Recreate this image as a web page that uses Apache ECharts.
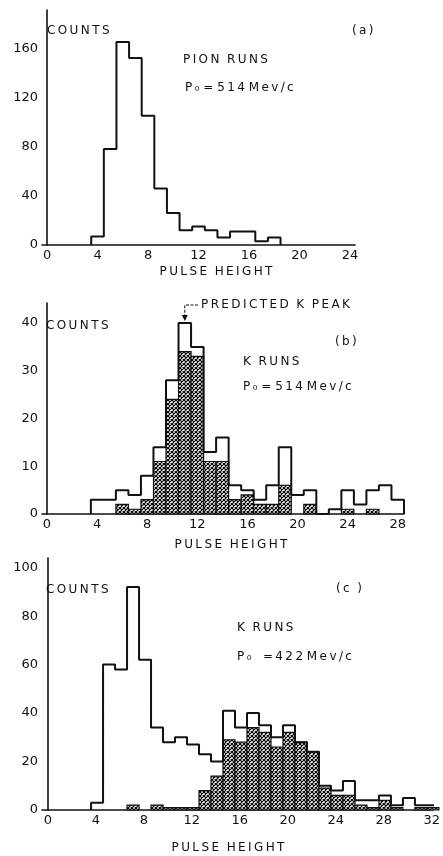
<!DOCTYPE html>
<html>
<head>
<meta charset="utf-8">
<script src="https://cdn.jsdelivr.net/npm/echarts@6/dist/echarts.min.js"></script>
<style>
  html, body { margin: 0; padding: 0; background: #fff; }
  #chart { width: 443px; height: 856px; }
</style>
</head>
<body>
<div id="chart"></div>
<script>
// (a) pion runs, Po = 514 Mev/c  -- one count per unit bin, first bin left edge
const pionEdge = 3.5
const pionCounts = [7, 78, 165, 152, 105, 46, 26, 12, 15, 12, 6, 11, 11, 3, 6]

// (b) K runs, Po = 514 Mev/c
const k514Edge = 3.5
const k514Total = [3, 3, 5, 4, 8, 14, 28, 40, 35, 13, 16, 6, 5, 3, 6, 14, 4, 5, 0, 1, 5, 2, 5, 6, 3]
const k514Hatched = [0, 0, 2, 1, 3, 11, 24, 34, 33, 11, 11, 3, 4, 2, 2, 6, 0, 2, 0, 0, 1, 0, 1, 0, 0]

// (c) K runs, Po = 422 Mev/c
const k422Edge = 3.6
const k422Total = [3, 60, 58, 92, 62, 34, 28, 30, 27, 23, 20, 41, 34, 40, 35, 30, 35, 28, 24, 10, 8, 12, 4, 4, 6, 2, 5, 2, 2]
const k422Hatched = [0, 0, 0, 2, 0, 2, 1, 1, 1, 8, 14, 29, 28, 34, 32, 26, 32, 28, 24, 9, 6, 6, 2, 1, 4, 1, 0, 1, 1]

const xTicksA = [0, 4, 8, 12, 16, 20, 24]
const xTicksB = [0, 4, 8, 12, 16, 20, 24, 28]
const xTicksC = [0, 4, 8, 12, 16, 20, 24, 28, 32]
const yTicksA = [0, 40, 80, 120, 160]
const yTicksB = [0, 10, 20, 30, 40]
const yTicksC = [0, 20, 40, 60, 80, 100]

const ink = '#111'
const fontFamily = '"DejaVu Sans", sans-serif'

// cross hatch fill
function makeHatch() {
  const c = document.createElement('canvas')
  c.width = 4
  c.height = 4
  const g = c.getContext('2d')
  g.fillStyle = '#fff'
  g.fillRect(0, 0, 4, 4)
  g.strokeStyle = '#000'
  g.lineWidth = 1.2
  g.beginPath()
  g.moveTo(0, 0); g.lineTo(4, 4)
  g.moveTo(4, 0); g.lineTo(0, 4)
  g.stroke()
  return c
}
const hatch = { image: makeHatch(), repeat: 'repeat' }

// step outline points from bin counts
function stairs(edge, counts) {
  const pts = [[edge, 0]]
  counts.forEach((v, i) => {
    pts.push([edge + i, v])
    pts.push([edge + i + 1, v])
  })
  pts.push([edge + counts.length, 0])
  return pts
}

function bins(edge, counts) {
  return counts.map((v, i) => [edge + i, edge + i + 1, v])
}

function hatchItem(params, api) {
  const v = api.value(2)
  if (!v) return
  const p0 = api.coord([api.value(0), v])
  const p1 = api.coord([api.value(1), 0])
  return {
    type: 'rect',
    shape: { x: p0[0], y: p0[1], width: p1[0] - p0[0], height: p1[1] - p0[1] },
    style: { fill: hatch, stroke: ink, lineWidth: 1.2 },
  }
}

function xAxis(idx, min, max, ticks) {
  return {
    type: 'value', gridIndex: idx, min: min, max: max,
    axisLine: { lineStyle: { color: ink, width: 1.6 } },
    axisTick: { show: false },
    splitLine: { show: false },
    axisLabel: { customValues: ticks, color: ink, fontFamily: fontFamily, fontSize: 13, margin: 4 },
  }
}

function yAxis(idx, max, ticks) {
  return {
    type: 'value', gridIndex: idx, min: 0, max: max,
    axisLine: { show: true, lineStyle: { color: ink, width: 1.6 } },
    axisTick: { show: false },
    splitLine: { show: false },
    axisLabel: { customValues: ticks, color: ink, fontFamily: fontFamily, fontSize: 13, margin: 4 },
  }
}

function outline(idx, edge, counts) {
  return {
    type: 'line', xAxisIndex: idx, yAxisIndex: idx,
    data: stairs(edge, counts), symbol: 'none', z: 5,
    lineStyle: { color: ink, width: 2 }, animation: false,
  }
}

function hatched(idx, edge, counts) {
  return {
    type: 'custom', xAxisIndex: idx, yAxisIndex: idx,
    data: bins(edge, counts), renderItem: hatchItem,
    encode: { x: [0, 1], y: 2 }, z: 3, animation: false,
  }
}

const chart = echarts.init(document.getElementById('chart'))
chart.setOption({
  backgroundColor: '#fff',
  animation: false,
  grid: [
    { left: 42, top: 10, width: 313, height: 235 },
    { left: 42, top: 303, width: 362, height: 211 },
    { left: 42, top: 558, width: 401, height: 252 },
  ],
  xAxis: [
    xAxis(0, -0.4, 24.4, xTicksA),
    xAxis(1, -0.4, 28.5, xTicksB),
    xAxis(2, -0.49, 32.1, xTicksC),
  ],
  yAxis: [
    yAxis(0, 191, yTicksA),
    yAxis(1, 44.2, yTicksB),
    yAxis(2, 104, yTicksC),
  ],
  series: [
    outline(0, pionEdge, pionCounts),
    hatched(1, k514Edge, k514Hatched),
    outline(1, k514Edge, k514Total),
    hatched(2, k422Edge, k422Hatched),
    outline(2, k422Edge, k422Total),
  ],
})

// widen the lettering a little, like the hand lettered original
function spaced(text, gap) {
  return text.split(' ').map(w => w.split('').join('\u2009')).join(gap)
}

function label(text, x, y, align, gap) {
  return {
    type: 'text', x: x, y: y, z: 10,
    style: {
      text: spaced(text, gap || '  '), fill: ink, fontFamily: fontFamily, fontSize: 12,
      align: align || 'left', verticalAlign: 'middle',
    },
  }
}

// arrow for the predicted K peak
const peakBin = k514Total.indexOf(Math.max(...k514Total))
const peak = chart.convertToPixel({ gridIndex: 1 }, [k514Edge + peakBin + 0.5, k514Total[peakBin]])
const arrowY = 305

chart.setOption({
  graphic: [
    label('COUNTS', 47, 31),
    label('(a)', 352, 31),
    label('PION RUNS', 183, 60),
    label('P\u2080 = 514 Mev/c', 185, 88, 'left', ' '),
    label('PULSE HEIGHT', 216, 272, 'center'),

    label('PREDICTED K PEAK', 201, arrowY),
    label('COUNTS', 46, 326),
    label('(b)', 335, 342),
    label('K RUNS', 243, 362),
    label('P\u2080 = 514 Mev/c', 243, 387, 'left', ' '),
    label('PULSE HEIGHT', 231, 545, 'center'),

    label('COUNTS', 46, 590),
    label('(c )', 336, 589),
    label('K RUNS', 237, 628),
    label('P\u2080   =422 Mev/c', 237, 657, 'left', ' '),
    label('PULSE HEIGHT', 228, 848, 'center'),

    {
      type: 'polyline', z: 10,
      shape: { points: [[198, arrowY], [peak[0], arrowY], [peak[0], peak[1] - 4]] },
      style: { stroke: ink, lineWidth: 1, fill: null, lineDash: [3, 1.5] },
    },
    {
      type: 'polygon', z: 10,
      shape: { points: [[peak[0] - 3, peak[1] - 8], [peak[0] + 3, peak[1] - 8], [peak[0], peak[1] - 2]] },
      style: { fill: ink },
    },
  ],
})
</script>
</body>
</html>
